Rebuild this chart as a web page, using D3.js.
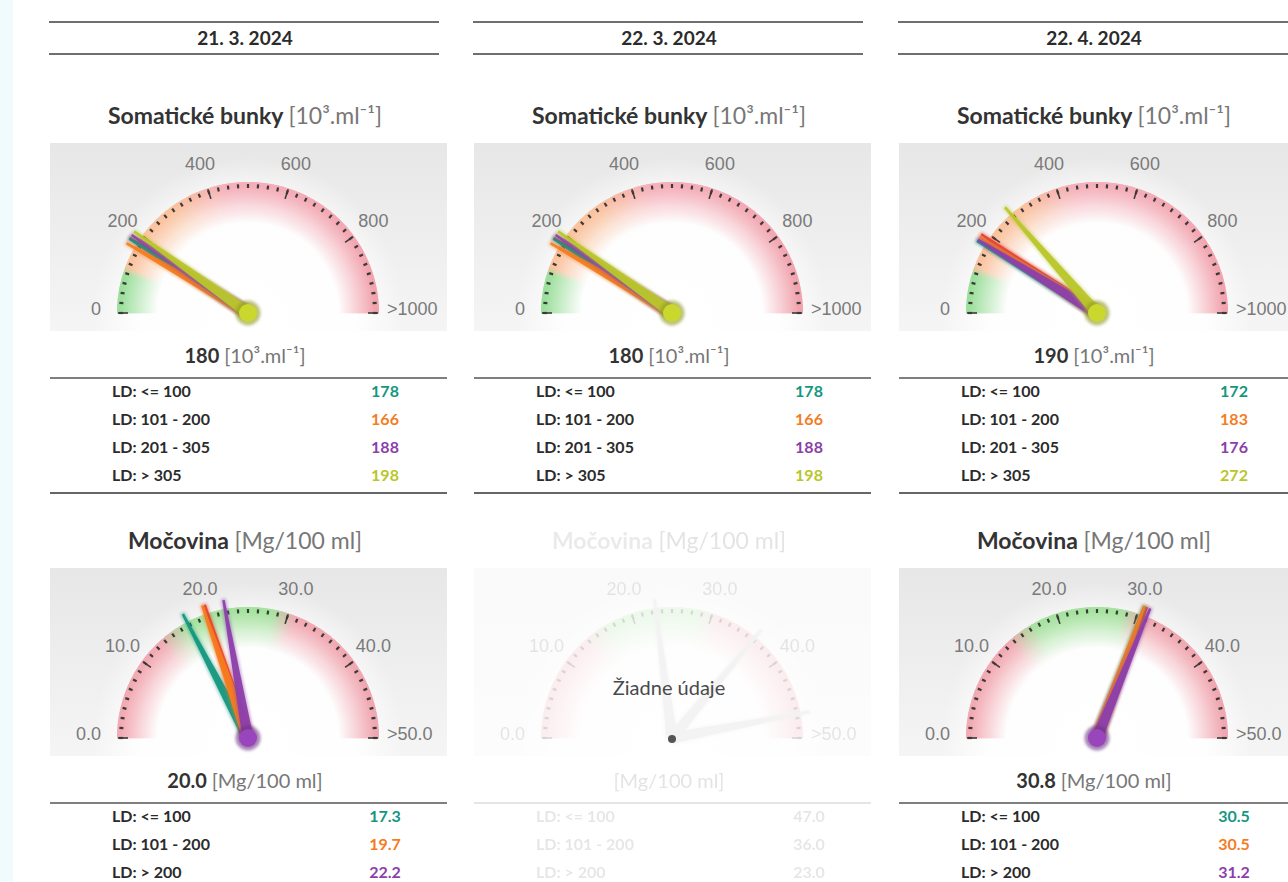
<!DOCTYPE html>
<html><head><meta charset="utf-8">
<script src="https://cdn.jsdelivr.net/npm/d3@7"></script>
<style>
html,body{margin:0;padding:0;background:#fff;}
svg{display:block;}
</style></head>
<body>
<svg id="chart" width="1288" height="882"></svg>
<script>
// ---------------- data ----------------
const dates = ["21. 3. 2024", "22. 3. 2024", "22. 4. 2024"];

const somaticTitle = "Somatické bunky";
const somaticUnit = "[10³.ml⁻¹]";
const somaticTicks = ["0", "200", "400", "600", "800", ">1000"];
const somaticGroups = ["LD: <= 100", "LD: 101 - 200", "LD: 201 - 305", "LD: > 305"];
const somaticMain = [180, 180, 190];
const somaticValues = [
  [178, 166, 188, 198],
  [178, 166, 188, 198],
  [172, 183, 176, 272]
];

const ureaTitle = "Močovina";
const ureaUnit = "[Mg/100 ml]";
const ureaTicks = ["0.0", "10.0", "20.0", "30.0", "40.0", ">50.0"];
const ureaGroups = ["LD: <= 100", "LD: 101 - 200", "LD: > 200"];
const ureaMain = [20.0, null, 30.8];
const ureaValues = [
  [17.3, 19.7, 22.2],
  [47.0, 36.0, 23.0],
  [30.5, 30.5, 31.2]
];
const ureaAvailable = [true, false, true];
const noDataText = "Žiadne údaje";

const seriesColors = ["#15977f", "#f57c1f", "#8c3fab", "#b9c62a"];
const mainColor = "#e03a34";

// ---------------- layout ----------------
const svg = d3.select("#chart");
const defs = svg.append("defs");
const pivotsX = [248, 672, 1097];
const cySom = 313, cyUrea = 738;
const R = 131, RIN = 90, LABEL_R = 155, NEEDLE_L = 140;
const FONT = "Lato, 'Open Sans', sans-serif";

svg.append("rect").attr("x", 0).attr("y", 0).attr("width", 13).attr("height", 882).attr("fill", "#f1fafc");

// gradients
const bgGrad = defs.append("linearGradient").attr("id", "bgGrad").attr("x1", 0).attr("y1", 0).attr("x2", 0).attr("y2", 1);
bgGrad.append("stop").attr("offset", 0).attr("stop-color", "#e7e7e7");
bgGrad.append("stop").attr("offset", 1).attr("stop-color", "#f5f5f5");

const glow = defs.append("radialGradient").attr("id", "glow").attr("gradientUnits", "userSpaceOnUse")
  .attr("cx", 0).attr("cy", 0).attr("r", 155);
glow.append("stop").attr("offset", 0).attr("stop-color", "#fff").attr("stop-opacity", 1);
glow.append("stop").attr("offset", 0.7).attr("stop-color", "#fff").attr("stop-opacity", 0.9);
glow.append("stop").attr("offset", 1).attr("stop-color", "#fff").attr("stop-opacity", 0);

const fadeGrad = defs.append("radialGradient").attr("id", "fadeGrad").attr("gradientUnits", "userSpaceOnUse")
  .attr("cx", 0).attr("cy", 0).attr("r", R);
fadeGrad.append("stop").attr("offset", 0.69).attr("stop-color", "#000");
fadeGrad.append("stop").attr("offset", 0.97).attr("stop-color", "#d8d8d8");
const mask = defs.append("mask").attr("id", "bandMask").attr("maskUnits", "userSpaceOnUse")
  .attr("x", -200).attr("y", -200).attr("width", 400).attr("height", 400);
mask.append("rect").attr("x", -200).attr("y", -200).attr("width", 400).attr("height", 400).attr("fill", "url(#fadeGrad)");

const blur = defs.append("filter").attr("id", "soft").attr("x", "-20%").attr("y", "-20%").attr("width", "140%").attr("height", "140%");
blur.append("feGaussianBlur").attr("stdDeviation", 1.6);

const somColor = d3.scaleLinear()
  .domain([0, 95, 115, 300, 450, 1000])
  .range(["#8ddb8d", "#8ddb8d", "#fbb98e", "#fbb98e", "#f5a3b0", "#f0939f"]);
const ureaColor = d3.scaleLinear()
  .domain([0, 13, 17, 28, 31, 50])
  .range(["#f19ca6", "#f19ca6", "#98df90", "#98df90", "#f19ca6", "#ef98a4"]);

function drawHeader(cx, date) {
  const g = svg.append("g");
  g.append("line").attr("x1", cx - 199).attr("x2", cx + 191).attr("y1", 22).attr("y2", 22).attr("stroke", "#6f6f6f").attr("stroke-width", 2);
  g.append("line").attr("x1", cx - 199).attr("x2", cx + 191).attr("y1", 54).attr("y2", 54).attr("stroke", "#6f6f6f").attr("stroke-width", 2);
  g.append("text").attr("x", cx - 3).attr("y", 40).attr("text-anchor", "middle").attr("dominant-baseline", "middle")
    .attr("font-family", FONT).attr("font-weight", 700).attr("font-size", 19).attr("fill", "#2b2b2b").text(date);
}

function drawGauge(opt) {
  const {cx, cy, max, color, ticks, minorStep, majorStep, title, unit, main, values, colors, groups, available, mainLabel} = opt;
  const root = svg.append("g");
  const content = root.append("g").attr("opacity", available ? 1 : 0.2);
  // title
  const t = content.append("text").attr("x", cx - 3).attr("y", cy - 195).attr("text-anchor", "middle").attr("dominant-baseline", "middle")
    .attr("font-family", FONT).attr("font-size", 23);
  t.append("tspan").attr("font-weight", 700).attr("fill", available ? "#333" : "#999").text(title + " ");
  t.append("tspan").attr("fill", "#777").text(unit);

  // background
  content.append("rect").attr("x", cx - 198).attr("y", cy - 170).attr("width", 397).attr("height", 188).attr("fill", "url(#bgGrad)");
  const g = content.append("g").attr("transform", `translate(${cx},${cy})`);
  g.append("rect").attr("x", -198).attr("y", -170).attr("width", 397).attr("height", 188).attr("fill", "url(#glow)");

  const scale = d3.scaleLinear().domain([0, max]).range([-Math.PI / 2, Math.PI / 2]);
  // band
  const band = g.append("g").attr("mask", "url(#bandMask)");
  const arc = d3.arc().innerRadius(RIN).outerRadius(R);
  const steps = d3.range(0, max, max / 240);
  band.selectAll("path").data(steps).join("path")
    .attr("d", v => arc({startAngle: scale(v) - 0.004, endAngle: scale(Math.min(max, v + max / 240)) + 0.004}))
    .attr("fill", v => color(v));

  // ticks
  const minor = d3.range(0, max + 1e-9, minorStep);
  g.selectAll("line.minor").data(minor).join("line")
    .attr("x1", v => Math.sin(scale(v)) * (R - 6)).attr("y1", v => -Math.cos(scale(v)) * (R - 6))
    .attr("x2", v => Math.sin(scale(v)) * (R - 2)).attr("y2", v => -Math.cos(scale(v)) * (R - 2))
    .attr("stroke", "#3a3a3a").attr("stroke-width", 2.2);
  const major = d3.range(0, max + 1e-9, majorStep);
  g.selectAll("line.major").data(major).join("line")
    .attr("x1", v => Math.sin(scale(v)) * (R - 11)).attr("y1", v => -Math.cos(scale(v)) * (R - 11))
    .attr("x2", v => Math.sin(scale(v)) * (R - 1)).attr("y2", v => -Math.cos(scale(v)) * (R - 1))
    .attr("stroke", "#3a3a3a").attr("stroke-width", 1.6);

  // labels
  g.selectAll("text.lab").data(major).join("text")
    .attr("font-family", "'Liberation Sans', Arial, sans-serif").attr("font-size", 18).attr("fill", "#7a7a7a")
    .attr("dominant-baseline", "middle")
    .attr("text-anchor", (v, i) => i === 0 ? "end" : (i === major.length - 1 ? "start" : "middle"))
    .attr("x", (v, i) => i === 0 ? -147 : (i === major.length - 1 ? 139 : Math.sin(scale(v)) * LABEL_R))
    .attr("y", (v, i) => (i === 0 || i === major.length - 1) ? -3 : -Math.cos(scale(v)) * LABEL_R)
    .text((v, i) => ticks[i]);

  // needles
  const needlePath = v => {
    const a = scale(Math.min(v, max));
    const s = Math.sin(a), c = Math.cos(a);
    const px = -c, py = -s; // perpendicular
    const bw = 5.5, tw = 1.2;
    const tx = s * NEEDLE_L, ty = -c * NEEDLE_L;
    return `M${px * bw},${py * bw} L${tx + px * tw},${ty + py * tw} L${tx - px * tw},${ty - py * tw} L${-px * bw},${-py * bw} Z`;
  };
  const needleData = [];
  if (main != null) needleData.push({v: main, c: mainColor});
  values.forEach((v, i) => needleData.push({v, c: available ? colors[i] : "#c4c4c4"}));
  const ng = g.append("g");
  needleData.forEach(d => {
    ng.append("path").attr("d", needlePath(d.v)).attr("fill", d.c).attr("stroke", d.c).attr("stroke-width", 2.5)
      .attr("opacity", 0.45).attr("filter", "url(#soft)");
    ng.append("path").attr("d", needlePath(d.v)).attr("fill", d.c).attr("opacity", 0.95);
  });

  // pivot
  const lastC = colors[values.length - 1];
  if (available) {
    g.append("circle").attr("r", 12.5).attr("fill", d3.color(lastC).darker(0.7)).attr("opacity", 0.6).attr("filter", "url(#soft)");
    g.append("circle").attr("r", 9).attr("fill", d3.color(lastC).brighter(0.25));
  }

  // value line
  const vt = content.append("text").attr("x", cx - 3).attr("y", cy + 45).attr("text-anchor", "middle").attr("dominant-baseline", "middle")
    .attr("font-family", FONT).attr("font-size", 20);
  if (main != null) vt.append("tspan").attr("font-weight", 700).attr("fill", "#333").text(mainLabel + " ");
  vt.append("tspan").attr("fill", "#777").text(unit);

  // table
  content.append("line").attr("x1", cx - 198).attr("x2", cx + 199).attr("y1", cy + 65).attr("y2", cy + 65).attr("stroke", "#555").attr("stroke-width", 1.5);
  groups.forEach((gname, i) => {
    const y = cy + 80 + i * 28;
    content.append("text").attr("x", cx - 136).attr("y", y).attr("dominant-baseline", "middle")
      .attr("font-family", FONT).attr("font-weight", 700).attr("font-size", 16)
      .attr("fill", available ? "#2b2b2b" : "#888").text(gname);
    content.append("text").attr("x", cx + 137).attr("y", y).attr("dominant-baseline", "middle").attr("text-anchor", "middle")
      .attr("font-family", FONT).attr("font-weight", 700).attr("font-size", 16)
      .attr("fill", available ? colors[i] : "#888").text(opt.fmt(values[i]));
  });
  if (groups.length === 4) {
    content.append("line").attr("x1", cx - 198).attr("x2", cx + 199).attr("y1", cy + 180).attr("y2", cy + 180).attr("stroke", "#666").attr("stroke-width", 2);
  }

  if (!available) {
    root.append("text").attr("x", cx - 3).attr("y", cy - 48).attr("text-anchor", "middle").attr("dominant-baseline", "middle")
      .attr("font-family", FONT).attr("font-size", 20).attr("fill", "#4a4a4a").text(noDataText);
    root.append("circle").attr("cx", cx).attr("cy", cy + 1).attr("r", 4).attr("fill", "#555");
  }
}

const somColors = seriesColors.slice(0, 4);
const ureaColors = [seriesColors[0], seriesColors[1], seriesColors[2]];

dates.forEach((d, i) => {
  const cx = pivotsX[i];
  drawHeader(cx, d);
  drawGauge({
    cx, cy: cySom, max: 1000, color: somColor, ticks: somaticTicks, minorStep: 25, majorStep: 200,
    title: somaticTitle, unit: somaticUnit, main: somaticMain[i], values: somaticValues[i], colors: somColors,
    groups: somaticGroups, available: true, mainLabel: d3.format("d")(somaticMain[i]), fmt: d3.format("d")
  });
  drawGauge({
    cx, cy: cyUrea, max: 50, color: ureaColor, ticks: ureaTicks, minorStep: 1.25, majorStep: 10,
    title: ureaTitle, unit: ureaUnit, main: ureaMain[i], values: ureaValues[i], colors: ureaColors,
    groups: ureaGroups, available: ureaAvailable[i], mainLabel: ureaMain[i] == null ? "" : d3.format(".1f")(ureaMain[i]), fmt: d3.format(".1f")
  });
});
</script>
</body></html>
